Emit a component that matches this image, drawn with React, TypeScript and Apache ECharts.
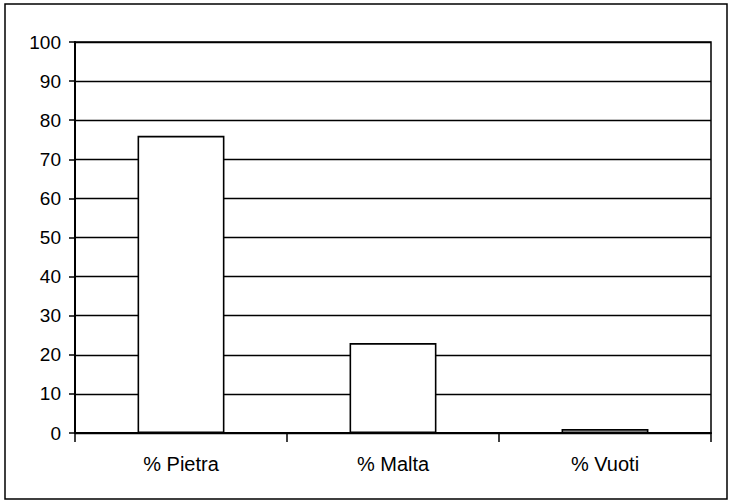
import React, { useEffect, useRef } from "react";
import * as echarts from "echarts";

const categories = ["% Pietra", "% Malta", "% Vuoti"];
const values = [76, 23, 1];
const yMin = 0;
const yMax = 100;
const yInterval = 10;

export default function App() {
  const ref = useRef<HTMLDivElement>(null);
  useEffect(() => {
    if (!ref.current) return;
    const chart = echarts.init(ref.current, null, { renderer: "svg" });
    const font = "'Liberation Sans', Arial, sans-serif";
    chart.setOption({
      animation: false,
      backgroundColor: "#fff",
      textStyle: { fontFamily: font },
      grid: {
        left: 75,
        right: 18,
        top: 42,
        bottom: 68,
        show: true,
        borderColor: "#000",
        borderWidth: 1.5,
        backgroundColor: "transparent",
      },
      graphic: [
        {
          type: "rect",
          shape: { x: 5, y: 4, width: 722, height: 495 },
          style: { fill: "none", stroke: "#000", lineWidth: 1.5 },
          silent: true,
          z: 10,
        },
      ],
      xAxis: {
        type: "category",
        data: categories,
        axisLine: { show: true, lineStyle: { color: "#000", width: 2 } },
        axisTick: { show: true, length: 9, lineStyle: { color: "#000", width: 1.5 } },
        axisLabel: { color: "#000", fontSize: 20, fontFamily: font, margin: 21 },
        splitLine: { show: false },
      },
      yAxis: {
        type: "value",
        min: yMin,
        max: yMax,
        interval: yInterval,
        axisLine: { show: true, lineStyle: { color: "#000", width: 2 } },
        axisTick: { show: true, length: 6, lineStyle: { color: "#000", width: 1.5 } },
        axisLabel: { color: "#000", fontSize: 19, fontFamily: font, margin: 14 },
        splitLine: { show: true, lineStyle: { color: "#000", width: 1.3 } },
      },
      series: [
        {
          type: "bar",
          data: values,
          barWidth: "41%",
          itemStyle: { color: "#fff", borderColor: "#000", borderWidth: 1.6 },
        },
      ],
    });
    return () => chart.dispose();
  }, []);
  return (
    <div
      ref={ref}
      style={{ position: "fixed", left: 0, top: 0, width: 729, height: 501 }}
    />
  );
}
